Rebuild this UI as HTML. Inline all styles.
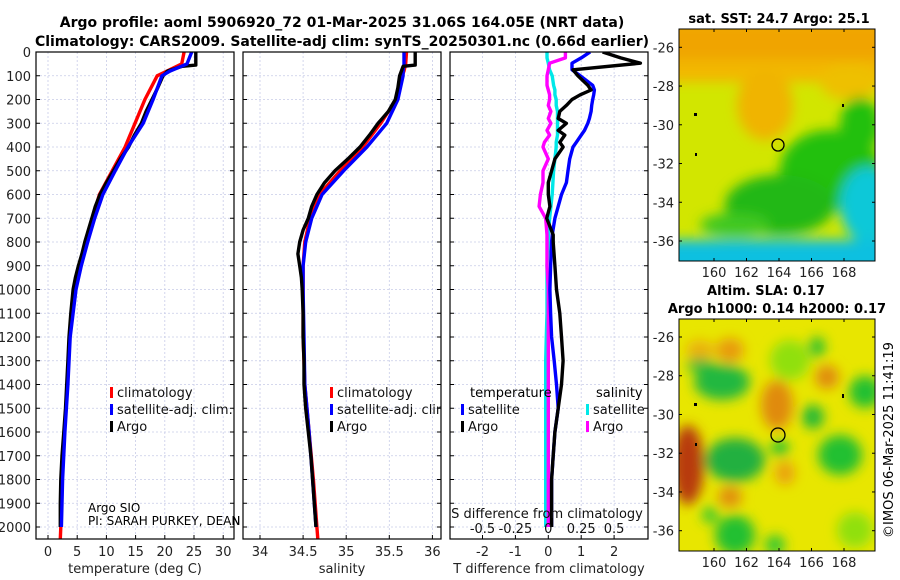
<!DOCTYPE html>
<html><head><meta charset="utf-8">
<style>
html,body{margin:0;padding:0;background:#fff;}
svg{display:block;font-family:"DejaVu Sans","Liberation Sans",sans-serif;}
</style></head>
<body>
<svg id="fig" width="900" height="580" viewBox="0 0 900 580">
<defs>
<filter id="blur1" x="-20%" y="-20%" width="140%" height="140%"><feGaussianBlur stdDeviation="6"/></filter>
<filter id="blur2" x="-20%" y="-20%" width="140%" height="140%"><feGaussianBlur stdDeviation="6"/></filter>
<clipPath id="clipM1"><rect x="679" y="29" width="196" height="232"/></clipPath>
<clipPath id="clipM2"><rect x="679" y="319" width="196" height="232"/></clipPath>
<clipPath id="clipP1"><rect x="36" y="52" width="198" height="487"/></clipPath>
<clipPath id="clipP2"><rect x="243" y="52" width="198" height="487"/></clipPath>
<clipPath id="clipP3"><rect x="450" y="52" width="198" height="487"/></clipPath>
</defs>

<g font-weight="bold" font-size="14" text-anchor="middle" fill="#000">
<text x="342" y="27">Argo profile: aoml 5906920_72 01-Mar-2025 31.06S 164.05E (NRT data)</text>
<text x="342" y="46">Climatology: CARS2009. Satellite-adj clim: synTS_20250301.nc (0.66d earlier)</text>
</g>

<text x="88" y="512" font-size="12">Argo SIO</text>
<text x="88" y="525" font-size="12">PI: SARAH PURKEY, DEAN ROEMMICH</text>

<g id="p1"></g>
<g id="p2"></g>
<g id="p3"></g>

<!-- SST map -->
<g>
<text x="779" y="23" font-size="13" font-weight="bold" text-anchor="middle">sat. SST: 24.7 Argo: 25.1</text>
<g clip-path="url(#clipM1)">
<rect x="679" y="29" width="196" height="232" fill="#d2e600"/>
<g filter="url(#blur1)">
<rect x="660" y="20" width="240" height="45" fill="#f0a400"/>
<rect x="660" y="60" width="240" height="22" fill="#f2b800"/>
<ellipse cx="765" cy="105" rx="28" ry="35" fill="#f0b400"/>
<ellipse cx="850" cy="82" rx="30" ry="18" fill="#eec000"/>
<ellipse cx="830" cy="170" rx="50" ry="40" fill="#22c010"/>
<ellipse cx="860" cy="125" rx="20" ry="28" fill="#20c010"/>
<ellipse cx="780" cy="205" rx="55" ry="30" fill="#22b818"/>
<ellipse cx="735" cy="225" rx="35" ry="12" fill="#40c820"/>
<ellipse cx="868" cy="205" rx="28" ry="38" fill="#10c8d8"/>
<rect x="660" y="240" width="240" height="40" fill="#10c0e0"/>
</g>
</g>
<rect x="679" y="29" width="196" height="232" fill="none" stroke="#000" stroke-width="1"/>
<circle cx="778" cy="145" r="6" fill="none" stroke="#000" stroke-width="1.3"/>
<rect x="694" y="113" width="3" height="3" fill="#000"/><rect x="695" y="153" width="2" height="3" fill="#000"/><rect x="842" y="104" width="2" height="3" fill="#000"/>
</g>
<g id="m1ticks"></g>

<!-- SLA map -->
<g>
<text x="766" y="295" font-size="13" font-weight="bold" text-anchor="middle">Altim. SLA: 0.17</text>
<text x="777" y="313" font-size="13" font-weight="bold" text-anchor="middle">Argo h1000: 0.14 h2000: 0.17</text>
<g clip-path="url(#clipM2)">
<rect x="679" y="319" width="196" height="232" fill="#e8e600"/>
<g filter="url(#blur2)">
<ellipse cx="688" cy="465" rx="16" ry="40" fill="#b83a10"/>
<ellipse cx="777" cy="405" rx="16" ry="25" fill="#e08a10"/>
<ellipse cx="827" cy="377" rx="12" ry="12" fill="#e08a10"/>
<ellipse cx="730" cy="350" rx="14" ry="12" fill="#e89a10"/>
<ellipse cx="730" cy="497" rx="12" ry="10" fill="#e08a10"/>
<ellipse cx="785" cy="473" rx="10" ry="12" fill="#eaa010"/>
<ellipse cx="700" cy="350" rx="14" ry="10" fill="#eab010"/>
<ellipse cx="722" cy="382" rx="28" ry="18" fill="#20b840"/>
<ellipse cx="700" cy="365" rx="14" ry="6" fill="#20b840"/>
<ellipse cx="735" cy="460" rx="30" ry="22" fill="#20b040"/>
<ellipse cx="817" cy="347" rx="8" ry="10" fill="#20c030"/>
<ellipse cx="813" cy="417" rx="11" ry="12" fill="#20b838"/>
<ellipse cx="865" cy="392" rx="16" ry="16" fill="#20c030"/>
<ellipse cx="840" cy="455" rx="22" ry="20" fill="#20c030"/>
<ellipse cx="780" cy="448" rx="9" ry="8" fill="#20c030"/>
<ellipse cx="735" cy="535" rx="20" ry="20" fill="#20c030"/>
<ellipse cx="775" cy="545" rx="10" ry="10" fill="#30c830"/>
<ellipse cx="790" cy="360" rx="20" ry="20" fill="#90e010"/>
<ellipse cx="710" cy="515" rx="8" ry="8" fill="#30c830"/>
<ellipse cx="855" cy="530" rx="18" ry="18" fill="#90e010"/>
</g>
</g>
<rect x="679" y="319" width="196" height="232" fill="none" stroke="#000" stroke-width="1"/>
<circle cx="778" cy="435" r="7" fill="none" stroke="#000" stroke-width="1.3"/>
<rect x="694" y="403" width="3" height="3" fill="#000"/><rect x="695" y="443" width="2" height="3" fill="#000"/><rect x="842" y="394" width="2" height="4" fill="#000"/>
</g>
<g id="m2ticks"></g>
<text transform="translate(893,440) rotate(-90)" font-size="13" text-anchor="middle">©IMOS 06-Mar-2025 11:41:19</text>
</svg>

<script>
// ---------- data ----------
const tempTicks = [0,5,10,15,20,25,30];
const salTicks = [34,34.5,35,35.5,36];
const salTickLabels = ["34","34.5","35","35.5","36"];
const tdiffTicks = [-2,-1,0,1,2];
const sdiffTicks = [-0.5,-0.25,0,0.25,0.5];
const sdiffTickLabels = ["-0.5","-0.25","0","0.25","0.5"];
const depthTicks = [0,100,200,300,400,500,600,700,800,900,1000,1100,1200,1300,1400,1500,1600,1700,1800,1900,2000];

const climDepth = [0,50,80,100,200,300,400,500,600,700,800,900,1000,1200,1400,1600,1800,2000,2050];
const climTemp  = [23.3,22.9,20.4,18.7,16.6,14.9,13.2,11.0,8.8,7.6,6.5,5.5,4.6,3.7,3.3,2.8,2.4,2.2,2.1];
const climSal   = [35.70,35.69,35.67,35.65,35.58,35.40,35.19,34.93,34.69,34.58,34.52,34.50,34.50,34.50,34.52,34.57,34.62,34.66,34.67];

const satDepth = [0,50,80,100,200,300,400,500,600,700,800,900,1000,1200,1400,1600,1800,2000];
const satTemp  = [24.6,23.8,20.9,19.5,18.0,16.3,13.7,11.5,9.4,8.0,6.8,5.7,4.8,3.8,3.4,2.9,2.5,2.3];
const satSal   = [35.67,35.67,35.66,35.66,35.60,35.47,35.24,34.97,34.72,34.60,34.53,34.50,34.50,34.51,34.52,34.57,34.61,34.65];

const argoDepth = [0,55,60,80,100,150,200,250,300,350,400,450,500,550,600,650,700,750,800,850,900,950,1000,1100,1200,1300,1400,1500,1600,1700,1800,1900,2000];
const argoTemp  = [25.3,25.3,23.0,20.5,19.7,18.8,17.8,16.8,16.0,14.8,13.8,12.4,11.2,10.0,8.9,8.1,7.5,6.9,6.3,5.8,5.2,4.7,4.3,3.9,3.6,3.4,3.2,3.0,2.7,2.4,2.2,2.1,2.1];
const argoSal   = [35.80,35.80,35.66,35.64,35.62,35.60,35.57,35.49,35.37,35.27,35.16,35.02,34.87,34.75,34.66,34.60,34.56,34.50,34.46,34.44,34.46,34.48,34.49,34.50,34.50,34.51,34.51,34.53,34.56,34.59,34.61,34.63,34.65];

const diffDepth   = [0,25,47,75,100,140,160,180,200,225,250,280,300,330,350,380,400,450,500,550,600,650,700,770,800,900,1000,1100,1200,1300,1400,1500,1600,1700,1800,1900,2000];
const argoTdiff   = [1.65,2.2,2.8,0.75,0.9,1.2,1.3,0.97,0.72,0.55,0.35,0.3,0.55,0.3,0.5,0.35,0.45,0.2,0.1,0.0,0.0,0.05,-0.05,0.15,0.15,0.2,0.25,0.35,0.4,0.45,0.4,0.3,0.2,0.15,0.1,0.1,0.1];
const satTdiff    = [1.27,1.0,0.72,0.72,0.97,1.35,1.4,1.38,1.35,1.32,1.3,1.25,1.2,1.1,1.0,0.85,0.75,0.65,0.6,0.55,0.4,0.3,0.2,0.12,0.1,0.07,0.05,0.07,0.1,0.18,0.25,0.3,0.2,0.15,0.1,0.1,0.1];
const satSdiff    = [-0.01,-0.01,0.0,0.01,0.03,0.04,0.05,0.05,0.06,0.06,0.07,0.07,0.07,0.07,0.07,0.06,0.06,0.05,0.04,0.035,0.03,0.02,0.01,0.0,0.0,-0.01,-0.01,-0.01,-0.015,-0.02,-0.02,-0.02,-0.02,-0.02,-0.02,-0.02,-0.02];
const argoSdiff   = [0.13,0.13,0.01,0.0,-0.01,-0.01,0.0,0.01,0.01,0.0,0.02,0.0,0.02,-0.01,0.01,-0.03,-0.04,0.0,-0.04,-0.04,-0.06,-0.07,-0.02,-0.01,-0.01,-0.01,0.0,0.0,0.0,0.0,0.0,0.0,0.0,0.0,0.0,0.0,0.0];

const lonTicks = [160,162,164,166,168];
const latTicks = [-26,-28,-30,-32,-34,-36];

// ---------- axes ----------
const NS = "http://www.w3.org/2000/svg";
const PT = 52, PB = 539;
const yD = d => 52 + d * 0.2375;
const xT = t => 48 + t * 5.84;
const xS = s => 260 + (s - 34) * 86.2;
const xTd = t => 548.3 + t * 32.9;
const xSd = s => 548.3 + s * 131.6;
const xLon = l => 714 + (l - 160) * 16.25;
const yLat1 = l => 47.3 + (-26 - l) * 19.37;
const yLat2 = l => 337 + (-26 - l) * 19.37;

function mk(tag, attrs, parent, text) {
  const e = document.createElementNS(NS, tag);
  for (const k in attrs) e.setAttribute(k, attrs[k]);
  if (text !== undefined) e.textContent = text;
  parent.appendChild(e);
  return e;
}

function panel(g, x0, clipId, xTicks, xfn, labels, xlabel) {
  mk('rect', {x: x0, y: PT, width: 198, height: PB - PT, fill: '#fff'}, g);
  const grid = mk('g', {stroke: '#c8cce8', 'stroke-width': 0.8, 'stroke-dasharray': '2,2'}, g);
  
  
  depthTicks.forEach(d => { if (d > 0) mk('line', {x1: x0, x2: x0 + 198, y1: yD(d), y2: yD(d)}, grid); });
  xTicks.forEach(t => mk('line', {x1: xfn(t), x2: xfn(t), y1: PT, y2: PB}, grid));
  const tk = mk('g', {stroke: '#000', 'stroke-width': 1}, g);
  depthTicks.forEach(d => {
    mk('line', {x1: x0, x2: x0 + 4, y1: yD(d), y2: yD(d)}, tk);
    mk('line', {x1: x0 + 198, x2: x0 + 194, y1: yD(d), y2: yD(d)}, tk);
  });
  xTicks.forEach(t => mk('line', {x1: xfn(t), x2: xfn(t), y1: PB, y2: PB - 4}, tk));
  const xl = mk('g', {'font-size': 13, 'text-anchor': 'middle', fill: '#222'}, g);
  
  
  xTicks.forEach((t, i) => mk('text', {x: xfn(t), y: 556}, xl, labels[i]));
  const xt = mk('text', {x: x0 + 99, y: 573, 'font-size': 13, 'text-anchor': 'middle', fill: '#222'}, g, xlabel);
  
  
}

function line(g, xs, ds, xfn, color, name, w) {
  const pts = xs.map((v, i) => xfn(v).toFixed(1) + ',' + yD(ds[i]).toFixed(1)).join(' ');
  const p = mk('polyline', {points: pts, fill: 'none', stroke: color, 'stroke-width': w || 3.4, 'stroke-linejoin': 'round'}, g);
  
  
}

function legend(g, x, y, items) {
  items.forEach((it, i) => {
    const yy = y + i * 17;
    const r = mk('rect', {x: x, y: yy - 9, width: 3, height: 11, fill: it[1]}, g);
    
    
    const t = mk('text', {x: x + 7, y: yy + 1, 'font-size': 13, fill: '#111'}, g, it[0]);
    
    
  });
}

function frame(g, x0) {
  mk('rect', {x: x0, y: PT, width: 198, height: PB - PT, fill: 'none', stroke: '#000', 'stroke-width': 1.2}, g);
}

// Panel 1
const p1 = document.getElementById('p1');
panel(p1, 36, 'clipP1', tempTicks, xT, tempTicks.map(String), 'temperature (deg C)');
const yl = mk('g', {'font-size': 13, 'text-anchor': 'end', fill: '#222'}, p1);


depthTicks.forEach(d => mk('text', {x: 31, y: yD(d) + 5}, yl, String(d)));
const c1 = mk('g', {'clip-path': 'url(#clipP1)'}, p1);
line(c1, climTemp, climDepth, xT, '#ff0000', 'climatology-temp-line');
line(c1, argoTemp, argoDepth, xT, '#000', 'argo-temp-line');
line(c1, satTemp, satDepth, xT, '#0000ff', 'satellite-temp-line');
legend(p1, 110, 396, [['climatology', '#ff0000'], ['satellite-adj. clim.', '#0000ff'], ['Argo', '#000']]);
const sio = mk('text', {x: 88, y: 512, 'font-size': 12}, p1, 'Argo SIO');


const pi = mk('text', {x: 88, y: 525, 'font-size': 12}, p1, 'PI: SARAH PURKEY, DEAN RO');


frame(p1, 36);

// Panel 2
const p2 = document.getElementById('p2');
panel(p2, 243, 'clipP2', salTicks, xS, salTickLabels, 'salinity');
const c2 = mk('g', {'clip-path': 'url(#clipP2)'}, p2);
line(c2, climSal, climDepth, xS, '#ff0000', 'climatology-sal-line');
line(c2, satSal, satDepth, xS, '#0000ff', 'satellite-sal-line');
line(c2, argoSal, argoDepth, xS, '#000', 'argo-sal-line');
const lg2 = mk('g', {'clip-path': 'url(#clipP2)'}, p2);
legend(lg2, 330, 396, [['climatology', '#ff0000'], ['satellite-adj. clim.', '#0000ff'], ['Argo', '#000']]);
frame(p2, 243);

// Panel 3
const p3 = document.getElementById('p3');
panel(p3, 450, 'clipP3', tdiffTicks, xTd, tdiffTicks.map(String), 'T difference from climatology');
const c3 = mk('g', {'clip-path': 'url(#clipP3)'}, p3);
mk('text', {x: 440, y: 525, 'font-size': 12}, c3, 'N');
line(c3, satSdiff, diffDepth, xSd, '#00e8e8', 'satellite-sdiff-line');
line(c3, argoSdiff, diffDepth, xSd, '#ff00ff', 'argo-sdiff-line');
line(c3, satTdiff, diffDepth, xTd, '#0000ff', 'satellite-tdiff-line');
line(c3, argoTdiff, diffDepth, xTd, '#000', 'argo-tdiff-line');
const lg3 = mk('g', {'clip-path': 'url(#clipP3)'}, p3);
const lt = mk('text', {x: 470, y: 397, 'font-size': 13}, lg3, 'temperature');


const ls = mk('text', {x: 596, y: 397, 'font-size': 13}, lg3, 'salinity');


legend(lg3, 461, 413, [['satellite', '#0000ff'], ['Argo', '#000']]);
legend(lg3, 586, 413, [['satellite', '#00e8e8'], ['Argo', '#ff00ff']]);
const sl = mk('g', {'font-size': 13, 'text-anchor': 'middle', fill: '#111', 'clip-path': 'url(#clipP3)'}, p3);


mk('text', {x: 547, y: 518}, sl, 'S difference from climatology');
sdiffTicks.forEach((s, i) => mk('text', {x: xSd(s), y: 533}, sl, sdiffTickLabels[i]));
frame(p3, 450);

// Map ticks
function mapTicks(id, yTop, yBot, yfn) {
  const g = document.getElementById(id);
  
  
  const t = mk('g', {stroke: '#000', 'stroke-width': 1}, g);
  lonTicks.forEach(l => { mk('line', {x1: xLon(l), x2: xLon(l), y1: yBot, y2: yBot - 3}, t); mk('line', {x1: xLon(l), x2: xLon(l), y1: yTop, y2: yTop + 3}, t); });
  latTicks.forEach(l => { mk('line', {x1: 679, x2: 682, y1: yfn(l), y2: yfn(l)}, t); mk('line', {x1: 875, x2: 872, y1: yfn(l), y2: yfn(l)}, t); });
  const tx = mk('g', {'font-size': 13, fill: '#222'}, g);
  lonTicks.forEach(l => mk('text', {x: xLon(l), y: yBot + 16, 'text-anchor': 'middle'}, tx, String(l)));
  latTicks.forEach(l => mk('text', {x: 674, y: yfn(l) + 5, 'text-anchor': 'end'}, tx, String(l)));
}
mapTicks('m1ticks', 29, 261, yLat1);
mapTicks('m2ticks', 319, 551, yLat2);
</script>
</body></html>
